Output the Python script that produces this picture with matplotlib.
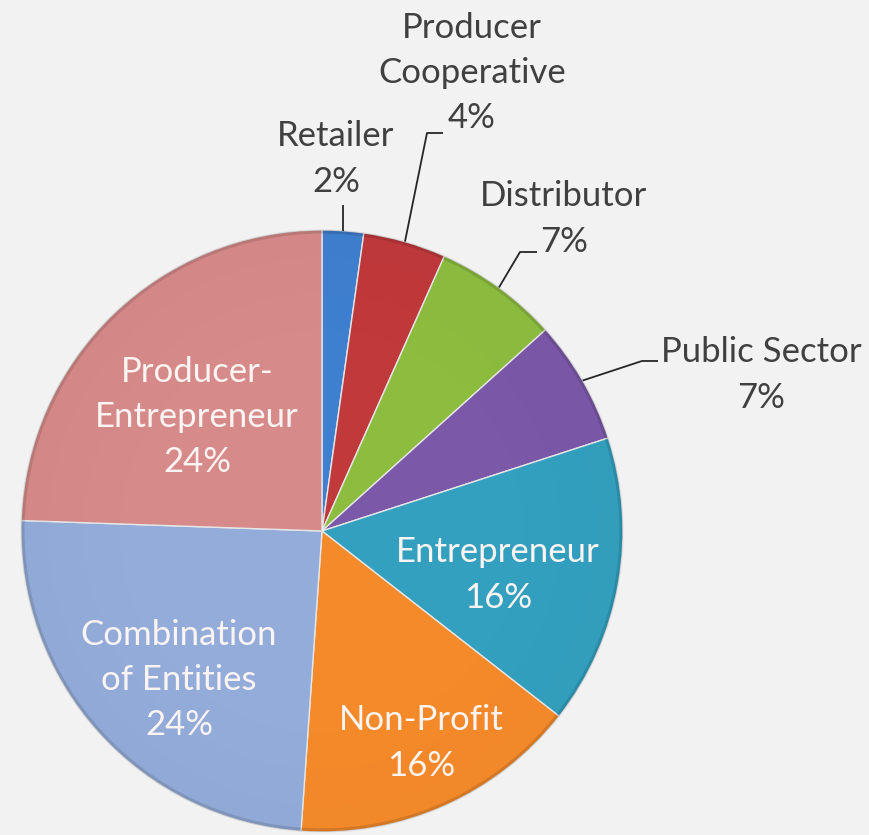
import matplotlib
matplotlib.use("Agg")
import matplotlib.pyplot as plt
from matplotlib.patches import Wedge
import numpy as np

# ---- data ----
categories = ["Retailer", "Producer\nCooperative", "Distributor", "Public Sector",
              "Entrepreneur", "Non-Profit", "Combination\nof Entities",
              "Producer-\nEntrepreneur"]
counts = [1, 2, 3, 3, 7, 7, 11, 11]
pct_labels = ["2%", "4%", "7%", "7%", "16%", "16%", "24%", "24%"]
colors = ["#3f7fcf", "#c0393b", "#8cbd3f", "#7b58a8", "#33a0bf", "#f48a2a",
          "#93acd9", "#d68a89"]

# ---- layout (pixel space of an 870x835 figure) ----
W, H = 870, 835
CX, CY, R = 322, 531, 301

def px(x, y):
    return ((x - CX) / R, (CY - y) / R)

fig = plt.figure(figsize=(W / 100, H / 100), dpi=100)
fig.patch.set_facecolor("#f2f2f2")
ax = fig.add_axes([0, 0, 1, 1])
ax.set_facecolor("#f2f2f2")
ax.axis("off")

wedges, _ = ax.pie(counts, colors=colors, startangle=90, counterclock=False,
                   radius=1.0, center=(0, 0), frame=False,
                   wedgeprops=dict(edgecolor="#e6e6e6", linewidth=1.0))

# subtle Excel-like shading: darker toward the rim
for k in range(12):
    r_out = 1.0 - k * 0.03
    ax.add_patch(Wedge((0, 0), r_out, 0, 360, width=0.03,
                       facecolor="black", alpha=0.012 * (12 - k) / 12 * 1.0,
                       lw=0, zorder=3))
ax.add_patch(Wedge((0, 0), 1.0, 0, 360, width=0.012, facecolor="black",
                   alpha=0.12, lw=0, zorder=3))

ax.set_xlim(-CX / R, (W - CX) / R)
ax.set_ylim((CY - H) / R, CY / R)
ax.set_aspect("auto")

FONT = "Lato"
FS = 25
OUT_COLOR = "#404040"
IN_COLOR = "#fbf4f2"
LS = 1.5

# label text centres (pixel) and leader paths
label_pos = {
    0: (336, 159),
    1: (472, 73),
    2: (564, 219),
    3: (761, 375),
    4: (498, 575),
    5: (421, 743),
    6: (179, 680),
    7: (197, 417),
}
inside = {4, 5, 6, 7}
leaders = {
    0: [(205,)],
    1: [(427, 133), (443, 133)],
    2: [(520, 252), (537, 252)],
    3: [(642, 361), (658, 361)],
}

total = sum(counts)
cum = np.cumsum([0] + counts)
for i, (cat, pl) in enumerate(zip(categories, pct_labels)):
    x, y = px(*label_pos[i])
    txt = cat + "\n" + pl
    ax.text(x, y, txt, ha="center", va="center", fontsize=FS, family=FONT,
            color=IN_COLOR if i in inside else OUT_COLOR, linespacing=LS,
            zorder=5)
    if i in leaders:
        mid = (cum[i] + counts[i] / 2) / total * 2 * np.pi
        sx, sy = np.sin(mid), np.cos(mid)
        pts = [(sx, sy)]
        for p in leaders[i]:
            if len(p) == 1:
                pts.append((sx, px(0, p[0])[1]))
            else:
                pts.append(px(*p))
        xs, ys = zip(*pts)
        ax.plot(xs, ys, color="#262626", lw=1.3, solid_capstyle="butt",
                zorder=5)

fig.savefig("out.png", dpi=100, facecolor=fig.get_facecolor())
